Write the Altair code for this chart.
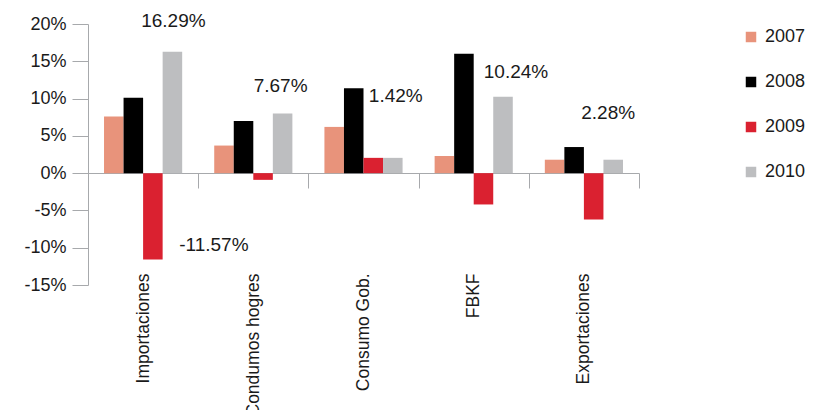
import altair as alt
import pandas as pd

categories = ["Importaciones", "Condumos hogres", "Consumo Gob.", "FBKF", "Exportaciones"]
years = ["2007", "2008", "2009", "2010"]
v2007 = [7.6, 3.7, 6.2, 2.3, 1.8]
v2008 = [10.1, 7.0, 11.4, 16.0, 3.5]
v2009 = [-11.57, -0.9, 2.05, -4.2, -6.2]
v2010 = [16.29, 8.0, 2.05, 10.24, 1.8]
colors = ["#E8937B", "#000000", "#DA2130", "#BDBEC0"]
y_ticks = [-15, -10, -5, 0, 5, 10, 15, 20]

# annotations shown in the chart
label_texts = ["16.29%", "-11.57%", "7.67%", "1.42%", "10.24%", "2.28%"]
label_cats = ["Importaciones", "Importaciones", "Condumos hogres", "Consumo Gob.", "FBKF", "Exportaciones"]
label_years = ["2010", "2009", "2010", "2010", "2010", "2010"]
label_y = [20.4, -9.7, 11.7, 10.3, 13.6, 8.0]
label_dx = [1, 61, -2, 3, 13, -5]

series = {"2007": v2007, "2008": v2008, "2009": v2009, "2010": v2010}
rows = []
for y in years:
    for c, v in zip(categories, series[y]):
        rows.append({"cat": c, "year": y, "value": v})
df = pd.DataFrame(rows)

FONT = "Liberation Sans"
GREY = "#A7A9AC"
TXT = "#1a1a1a"

x_axis = alt.Axis(
    title=None,
    labelAngle=-90,
    tickBand="extent",
    offset=-112,
    labelPadding=85,
    tickSize=15,
    tickColor=GREY,
    domainColor=GREY,
    labelFontSize=17.5,
    labelFont=FONT,
    labelColor=TXT,
    labelOverlap=False,
)
y_axis = alt.Axis(
    title=None,
    values=y_ticks,
    labelExpr="datum.value + '%'",
    labelOverlap=False,
    labelFlush=False,
    grid=False,
    tickSize=16,
    labelPadding=6,
    tickColor=GREY,
    domainColor=GREY,
    labelFontSize=18,
    labelFont=FONT,
    labelColor=TXT,
)
x_scale = alt.Scale(paddingInner=0, paddingOuter=0)
xoff_scale = alt.Scale(paddingInner=0, paddingOuter=0.82)
y_scale = alt.Scale(domain=[-15, 20], nice=False)

bars = alt.Chart(df).mark_bar().encode(
    x=alt.X("cat:N", sort=categories, scale=x_scale, axis=x_axis),
    xOffset=alt.XOffset("year:N", sort=years, scale=xoff_scale),
    y=alt.Y("value:Q", scale=y_scale, axis=y_axis),
    color=alt.Color(
        "year:N",
        sort=years,
        scale=alt.Scale(domain=years, range=colors),
        legend=alt.Legend(
            title=None,
            orient="none",
            legendX=654,
            legendY=4,
            symbolType="square",
            symbolSize=110,
            symbolStrokeWidth=0,
            labelFontSize=18,
            labelFont=FONT,
            labelColor=TXT,
            labelOffset=5,
            rowPadding=27,
            padding=0,
        ),
    ),
)

texts = []
for t, c, yr, yv, dx in zip(label_texts, label_cats, label_years, label_y, label_dx):
    d = pd.DataFrame([{"cat": c, "year": yr, "pos": yv, "txt": t}])
    texts.append(
        alt.Chart(d)
        .mark_text(fontSize=19, font=FONT, color=TXT, dx=dx, align="center", baseline="middle")
        .encode(
            x=alt.X("cat:N", sort=categories, scale=x_scale, axis=x_axis),
            xOffset=alt.XOffset("year:N", sort=years, scale=xoff_scale),
            y=alt.Y("pos:Q", scale=y_scale, axis=y_axis),
            text="txt:N",
        )
    )

chart = (
    alt.layer(bars, *texts)
    .properties(
        width=551,
        height=261,
        autosize=alt.AutoSizeParams(type="none"),
        padding={"left": 80, "top": 16, "right": 166, "bottom": 125},
        background="white",
    )
    .configure_view(stroke=None)
    .configure_axis(labelOverlap=False)
)

chart.save("out.html", embed_options={"renderer": "svg", "actions": False})
